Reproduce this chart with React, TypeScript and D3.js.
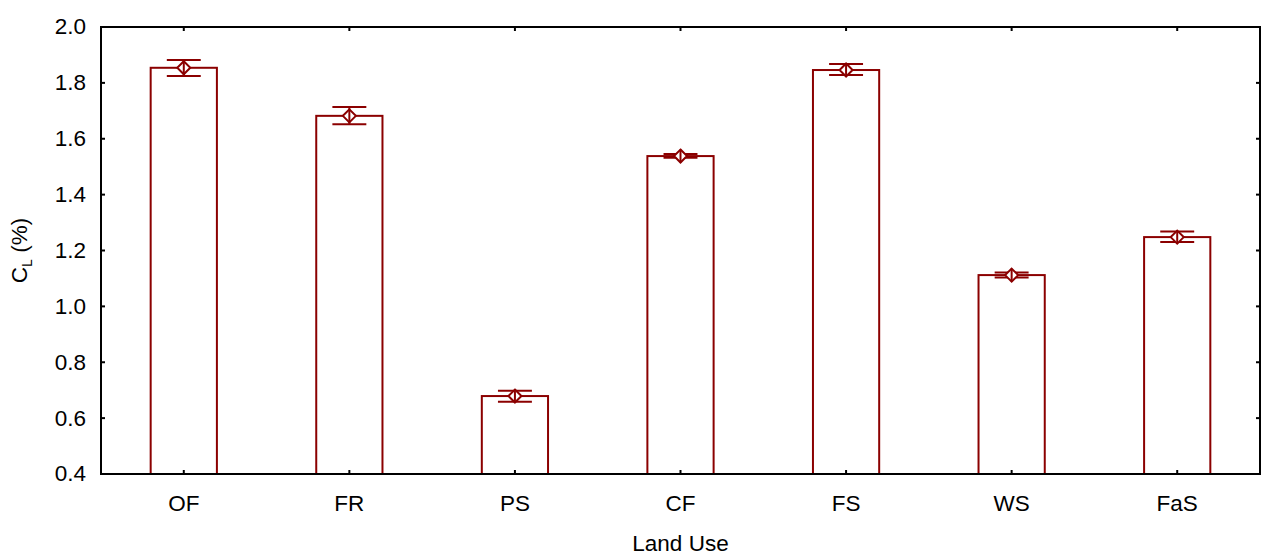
import * as d3 from 'd3'

const CATEGORIES = ['OF', 'FR', 'PS', 'CF', 'FS', 'WS', 'FaS']
const MEANS = [1.854, 1.682, 0.679, 1.538, 1.846, 1.112, 1.248]
const UPPER = [1.882, 1.714, 0.698, 1.545, 1.868, 1.121, 1.268]
const LOWER = [1.825, 1.652, 0.659, 1.532, 1.828, 1.103, 1.230]
const Y_TICKS = [0.4, 0.6, 0.8, 1.0, 1.2, 1.4, 1.6, 1.8, 2.0]

const W = 1262
const H = 557
const M = { left: 101, right: 2, top: 27, bottom: 83 }
const RED = '#8b0000'
const FONT = '"Liberation Sans", Arial, sans-serif'
const FS = 22.5

export default function App() {
  const x = d3
    .scaleBand()
    .domain(CATEGORIES)
    .range([M.left, W - M.right])
    .paddingInner(0)
    .paddingOuter(0)
  const y = d3.scaleLinear().domain([0.4, 2.0]).range([H - M.bottom, M.top])

  const barW = x.bandwidth() * 0.4
  const capW = x.bandwidth() * 0.205
  const d = 6.5
  const x0 = M.left
  const x1 = W - M.right
  const y0 = H - M.bottom
  const y1 = M.top

  return (
    <svg
      width={W}
      height={H}
      style={{ position: 'absolute', left: 0, top: 0, background: '#fff' }}
      fontFamily={FONT}
    >
      {/* bars */}
      {CATEGORIES.map((c, i) => {
        const cx = x(c)! + x.bandwidth() / 2
        return (
          <g key={c}>
            <rect
              x={cx - barW / 2}
              y={y(MEANS[i])}
              width={barW}
              height={y(0.4) - y(MEANS[i])}
              fill="none"
              stroke={RED}
              strokeWidth={2}
            />
            <line x1={cx} x2={cx} y1={y(UPPER[i])} y2={y(LOWER[i])} stroke={RED} strokeWidth={2} />
            <line x1={cx - capW / 2} x2={cx + capW / 2} y1={y(UPPER[i])} y2={y(UPPER[i])} stroke={RED} strokeWidth={2} />
            <line x1={cx - capW / 2} x2={cx + capW / 2} y1={y(LOWER[i])} y2={y(LOWER[i])} stroke={RED} strokeWidth={2} />
            <path
              d={`M${cx},${y(MEANS[i]) - d} L${cx + d},${y(MEANS[i])} L${cx},${y(MEANS[i]) + d} L${cx - d},${y(MEANS[i])} Z`}
              fill="#fff"
              stroke={RED}
              strokeWidth={2}
            />
            <line x1={cx} x2={cx} y1={y(MEANS[i]) - d} y2={y(MEANS[i]) + d} stroke={RED} strokeWidth={2} />
          </g>
        )
      })}

      {/* frame */}
      <rect x={x0} y={y1} width={x1 - x0} height={y0 - y1} fill="none" stroke="#000" strokeWidth={2} />

      {/* y ticks */}
      {Y_TICKS.map((t) => (
        <g key={t}>
          <line x1={x0} x2={x0 + 4} y1={y(t)} y2={y(t)} stroke="#000" strokeWidth={2} />
          <line x1={x1} x2={x1 - 4} y1={y(t)} y2={y(t)} stroke="#000" strokeWidth={2} />
          <text x={x0 - 15} y={y(t)} dy="0.33em" textAnchor="end" fontSize={FS} fill="#000">
            {d3.format('.1f')(t)}
          </text>
        </g>
      ))}

      {/* x ticks */}
      {CATEGORIES.map((c) => {
        const cx = x(c)! + x.bandwidth() / 2
        return (
          <g key={c}>
            <line x1={cx} x2={cx} y1={y0} y2={y0 - 4} stroke="#000" strokeWidth={2} />
            <line x1={cx} x2={cx} y1={y1} y2={y1 + 4} stroke="#000" strokeWidth={2} />
            <text x={cx} y={511} textAnchor="middle" fontSize={FS} fill="#000">
              {c}
            </text>
          </g>
        )
      })}

      {/* axis titles */}
      <text x={(x0 + x1) / 2} y={551} textAnchor="middle" fontSize={FS} fill="#000">
        Land Use
      </text>
      <text transform={`translate(27,${(y0 + y1) / 2}) rotate(-90)`} textAnchor="middle" fontSize={FS} fill="#000">
        C<tspan fontSize={14} dy={5}>L</tspan>
        <tspan dy={-5}> (%)</tspan>
      </text>
    </svg>
  )
}
